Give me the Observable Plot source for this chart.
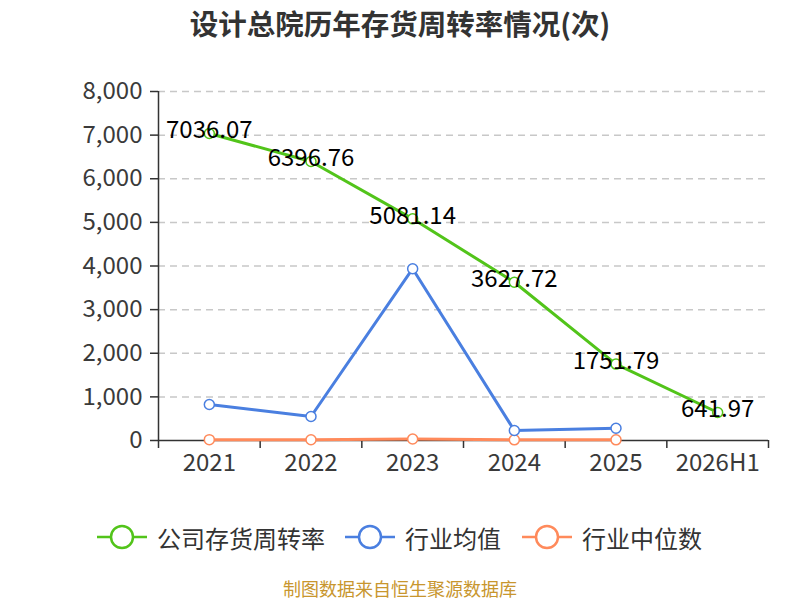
<!DOCTYPE html>
<html>
<head>
<meta charset="utf-8">
<script src="https://cdn.jsdelivr.net/npm/d3@7"></script>
<script src="https://cdn.jsdelivr.net/npm/@observablehq/plot@0.6"></script>
<style>
  body { margin: 0; background: #fff; font-family: "Noto Sans CJK SC", "Noto Sans", sans-serif; }
  #wrap { width: 800px; height: 600px; position: relative; overflow: hidden; }
  #title { height: 50px; line-height: 46px; text-align: center; font-size: 28.5px; font-weight: bold; color: #333; }
  #legend { position: absolute; top: 518px; left: 0; width: 800px; height: 38px; }
  .item { position: absolute; top: 0; height: 38px; display: flex; align-items: center; font-size: 24px; color: #333; }
  #caption { position: absolute; top: 578px; width: 800px; text-align: center; font-size: 18px; color: #c8962e; line-height: 21px; height: 21px; }
</style>
</head>
<body>
<div id="wrap">
  <div id="title">设计总院历年存货周转率情况(次)</div>
  <div id="chart"></div>
  <div id="legend"></div>
  <div id="caption">制图数据来自恒生聚源数据库</div>
</div>
<script>
const categories = ["2021", "2022", "2023", "2024", "2025", "2026H1"];
const companyValues = [7036.07, 6396.76, 5081.14, 3627.72, 1751.79, 641.97];
const industryMean = [826, 550, 3938, 229, 282];
const industryMedian = [20, 18, 35, 15, 15];
const yTicks = [0, 1000, 2000, 3000, 4000, 5000, 6000, 7000, 8000];
const seriesNames = ["公司存货周转率", "行业均值", "行业中位数"];
const colors = ["#52c41a", "#4a7fe0", "#ff8a5b"];

const company = companyValues.map((v, i) => ({i, v}));
const mean = industryMean.map((v, i) => ({i, v}));
const median = industryMedian.map((v, i) => ({i, v}));
const bounds = d3.range(categories.length + 1).map(k => k - 0.5);

const font = "'Noto Sans CJK SC', 'Noto Sans', sans-serif";

const chart = Plot.plot({
  width: 800,
  height: 450,
  marginTop: 41,
  marginBottom: 60,
  marginLeft: 158,
  marginRight: 32,
  style: {fontSize: "24px", fontFamily: font, color: "#333", background: "transparent"},
  x: {type: "linear", domain: [-0.5, categories.length - 0.5]},
  y: {domain: [0, 8000]},
  marks: [
    Plot.gridY(yTicks.filter(d => d > 0), {stroke: "#c8c8c8", strokeOpacity: 1, strokeDasharray: "7,5", strokeWidth: 1.5}),
    Plot.axisY({ticks: yTicks, tickSize: 8, tickPadding: 8, tickFormat: d3.format(","), stroke: "#333", fill: "#3a3a3a", strokeWidth: 1.5, label: null}),
    Plot.ruleX([-0.5], {y1: 0, y2: 8000, stroke: "#333", strokeWidth: 1.5}),
    Plot.axisX({ticks: bounds, tickSize: 8, tickFormat: () => "", stroke: "#333", strokeWidth: 1.5, label: null}),
    Plot.axisX({ticks: d3.range(categories.length), tickSize: 0, tickPadding: 13, tickFormat: i => categories[i], fill: "#3a3a3a", label: null}),
    Plot.ruleY([0], {stroke: "#333", strokeWidth: 1.5}),
    Plot.line(median, {x: "i", y: "v", stroke: colors[2], strokeWidth: 3}),
    Plot.dot(median, {x: "i", y: "v", r: 5, fill: "white", stroke: colors[2], strokeWidth: 1.5}),
    Plot.line(mean, {x: "i", y: "v", stroke: colors[1], strokeWidth: 3}),
    Plot.dot(mean, {x: "i", y: "v", r: 5, fill: "white", stroke: colors[1], strokeWidth: 1.5}),
    Plot.line(company, {x: "i", y: "v", stroke: colors[0], strokeWidth: 3}),
    Plot.dot(company, {x: "i", y: "v", r: 5, fill: "white", stroke: colors[0], strokeWidth: 1.5}),
    Plot.text(company, {x: "i", y: "v", text: d => d.v.toFixed(2), dy: -3, fill: "#000", fontSize: 24, textAnchor: "middle"})
  ]
});
document.getElementById("chart").appendChild(chart);

// Legend
const legendPos = [97, 345, 522];
const legend = document.getElementById("legend");
seriesNames.forEach((name, k) => {
  const item = document.createElement("div");
  item.className = "item";
  item.style.left = legendPos[k] + "px";
  item.innerHTML = `<svg width="50" height="38" style="margin-right:10px"><line x1="0" x2="50" y1="19" y2="19" stroke="${colors[k]}" stroke-width="2.5"/><circle cx="25" cy="19" r="11" fill="white" stroke="${colors[k]}" stroke-width="2.5"/></svg><span>${name}</span>`;
  legend.appendChild(item);
});
</script>
</body>
</html>
